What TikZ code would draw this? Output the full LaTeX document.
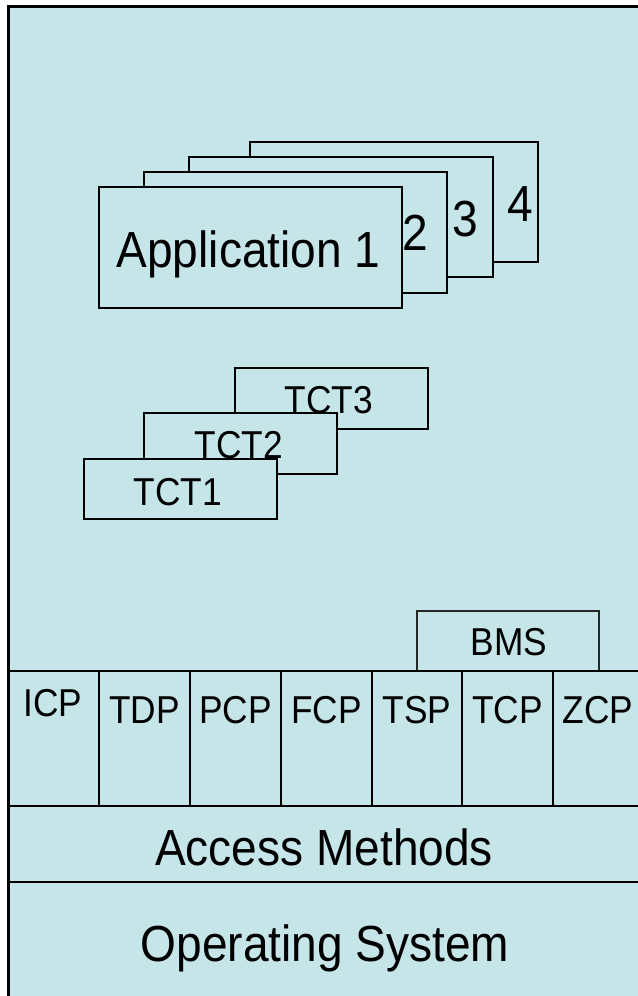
\documentclass[tikz,border=0pt]{standalone}
\usepackage{fontspec}
\usepackage{graphicx}
\setmainfont{Liberation Sans}
\definecolor{bgfill}{RGB}{197,229,232}
\newcommand{\tallt}[1]{\scalebox{0.98}[1.08]{#1}}
\begin{document}
\begin{tikzpicture}[x=0.75pt,y=-0.75pt,
  box/.style={draw=black,fill=bgfill,line width=1.3pt},
  thinbox/.style={draw=black!85,fill=bgfill,line width=0.9pt},
  rowline/.style={draw=black,line width=1.5pt},
  big/.style={inner sep=0pt,anchor=base,font=\fontsize{35.25}{40}\selectfont},
  small/.style={inner sep=0pt,anchor=base,font=\fontsize{27}{32}\selectfont}]
\useasboundingbox (0,0) rectangle (638,996);
\clip (0,0) rectangle (638,996);
% outer frame
\draw[fill=bgfill,draw=black,line width=2.25pt] (8,6) rectangle (660,1020);
% application stack
\draw[box] (250,142) rectangle (538,262);
\node[big] (n4) at (520,221.7) {\tallt{4}};
\draw[box] (189,157) rectangle (493,277);
\node[big] (n3) at (465.7,236.7) {\tallt{3}};
\draw[box] (144,172) rectangle (447,293);
\node[big] (n2) at (415,250) {\tallt{2}};
\draw[box] (99,187) rectangle (402,308);
\node[big] (app1) at (248.5,267) {\tallt{Application 1}};
% TCT stack
\draw[box] (235,368) rectangle (428,429);
\node[small] (tct3) at (329,413) {\tallt{TCT3}};
\draw[box] (144,413) rectangle (337,474);
\node[small] (tct2) at (239,458) {\tallt{TCT2}};
\draw[box] (84,459) rectangle (277,519);
\node[small] (tct1) at (178,505) {\tallt{TCT1}};
% BMS
\draw[thinbox] (417,611) rectangle (599,671);
\node[small] (bms) at (509,655) {\tallt{BMS}};
% rows
\draw[rowline] (8,671) -- (660,671);
\draw[rowline] (8,806) -- (660,806);
\draw[rowline] (8,882) -- (660,882);
\foreach \x in {99,190,281,372,462,553}
  \draw[rowline,line width=1.2pt] (\x,671) -- (\x,806);
\node[small] (icp) at (53,716.7) {\tallt{ICP}};
\node[small] (tdp) at (144.5,723.3) {\tallt{TDP}};
\node[small] (pcp) at (235.5,723.3) {\tallt{PCP}};
\node[small] (fcp) at (326.5,723.3) {\tallt{FCP}};
\node[small] (tsp) at (417,723.3) {\tallt{TSP}};
\node[small] (tcp) at (507.5,723.3) {\tallt{TCP}};
\node[small] (zcp) at (598,723.3) {\tallt{ZCP}};
\node[big] (am) at (324,865) {\tallt{Access Methods}};
\node[big] (os) at (325,961.7) {\tallt{Operating System}};
\end{tikzpicture}
\end{document}
